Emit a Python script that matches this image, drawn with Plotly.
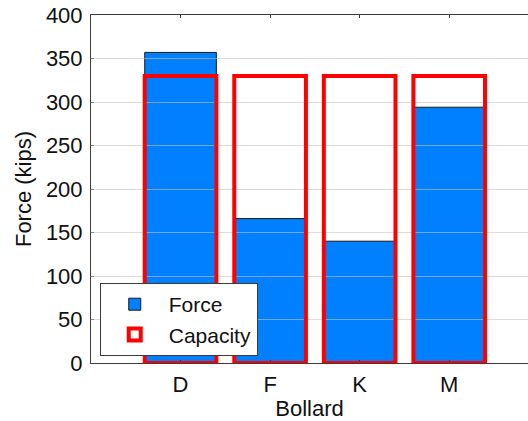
import plotly.graph_objects as go

bollards = ["D", "F", "K", "M"]
force = [357, 166, 140, 294]
capacity = [330, 330, 330, 330]
y_ticks = [0, 50, 100, 150, 200, 250, 300, 350, 400]

FONT = "Liberation Sans, Arial, sans-serif"
AXIS_COLOR = "#3c3c3c"
FS = 22

fig = go.Figure()
fig.add_trace(go.Bar(
    x=bollards, y=force, name="Force", width=0.8,
    marker=dict(color="#0080ff", line=dict(color="#1a1a1a", width=1)),
    xaxis="x", yaxis="y",
))
fig.add_trace(go.Bar(
    x=bollards, y=capacity, name="Capacity", width=0.8,
    marker=dict(color="rgba(0,0,0,0)", line=dict(color="#ff0000", width=4)),
    xaxis="x2", yaxis="y2",
))

fig.update_layout(
    width=528, height=421,
    margin=dict(l=91, r=0, t=15, b=58, autoexpand=False),
    paper_bgcolor="white",
    plot_bgcolor="rgba(0,0,0,0)",
    barmode="overlay",
    font=dict(family=FONT, size=FS, color="#111111"),
    xaxis=dict(
        categoryorder="array", categoryarray=bollards, automargin=False,
        range=[-1, 3.88], showgrid=False, zeroline=False,
        showline=True, linecolor=AXIS_COLOR, linewidth=1, mirror="ticks",
        ticks="inside", ticklen=3, tickcolor=AXIS_COLOR,
        ticklabelstandoff=2,
        title=dict(text="Bollard", standoff=0, font=dict(size=FS)),
        tickfont=dict(size=FS),
    ),
    yaxis=dict(
        range=[0, 400], tickvals=y_ticks, showgrid=False, zeroline=False,
        automargin=False, ticklabeloverflow="allow",
        showline=True, linecolor=AXIS_COLOR, linewidth=1, mirror=False,
        ticks="inside", ticklen=3, tickcolor=AXIS_COLOR,
        ticklabelstandoff=3,
        title=dict(text="Force (kips)", standoff=8, font=dict(size=FS)),
        tickfont=dict(size=FS),
    ),
    xaxis2=dict(
        matches="x", anchor="y2", automargin=False,
        showgrid=False, zeroline=False, showline=False,
        showticklabels=False, ticks="",
    ),
    yaxis2=dict(
        matches="y", anchor="x2", tickvals=y_ticks, automargin=False,
        showgrid=True, gridcolor="rgba(195,195,195,0.6)", gridwidth=1,
        zeroline=False, showline=False, showticklabels=False, ticks="",
    ),
    legend=dict(
        x=0.02, y=0.02, xanchor="left", yanchor="bottom",
        bgcolor="white", bordercolor=AXIS_COLOR, borderwidth=1,
        font=dict(size=21), tracegroupgap=0, itemwidth=58,
    ),
    showlegend=True,
)

# remove the page's default body margin so the figure fills the window
fig.write_html(
    "out.html",
    config={"displayModeBar": False},
    post_script="document.body.style.margin='0';",
)
